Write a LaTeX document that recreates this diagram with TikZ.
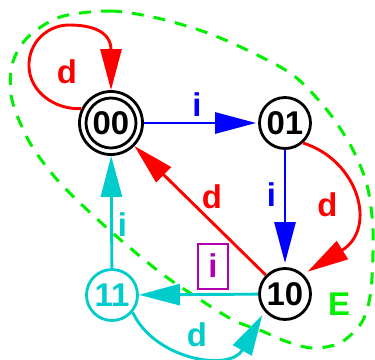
\documentclass[tikz,border=0pt]{standalone}
\usepackage{fontspec}
\setmainfont{Liberation Sans}
\usetikzlibrary{arrows.meta}
\definecolor{tcyan}{RGB}{0,204,204}
\definecolor{tmag}{RGB}{176,0,176}
\definecolor{tgreen}{RGB}{0,240,0}
\begin{document}
\begin{tikzpicture}[x=1bp,y=-1bp,
  state/.style={circle,draw,line width=2.8bp,minimum size=51bp,inner sep=0pt,
    font=\fontsize{33}{36}\selectfont\bfseries},
  lbl/.style={inner sep=0pt,font=\fontsize{33}{36}\selectfont\bfseries},
  edge/.style={line width=2.9bp,-{Triangle[length=41bp,width=21bp]}},
]
\useasboundingbox (0,0) rectangle (375,360);

% the set E
\draw[tgreen,line width=3bp,dash pattern=on 12bp off 10bp]
  plot[smooth cycle] coordinates {(60,17) (110,11) (157,18) (205,32) (247,50)
    (293,75) (327,110) (352,148) (367,185) (373,230) (371,290) (362,322)
    (340,343) (312,348) (285,341) (262,331) (233,320) (193,295) (157,270)
    (107,228) (60,183) (30,143) (12,100) (12,65) (27,38)};

% states
\node[state,minimum size=63bp] (n00) at (111,123) {00};
\draw[line width=2.8bp] (n00.center) circle (25bp);
\node[state] (n01) at (285,123) {01};
\node[state] (n10) at (285,294) {10};
\node[state,tcyan] (n11) at (112,295) {11};

% transitions
\draw[edge,red] (n00.154) .. controls (55,110) and (30,92) .. (29,67)
  .. controls (28,42) and (48,25) .. (69,25)
  .. controls (93,25) and (111,32) .. (111,50) -- (n00.north);
\draw[edge,blue,shorten >=2bp] (n00) -- (n01);
\draw[edge,blue,shorten >=4bp] (n01) -- (n10);
\draw[edge,red,shorten >=5bp] (n01.-48) .. controls (358,160) and (378,228) .. (n10.47);
\draw[edge,red] (n10) -- (n00);
\draw[edge,tcyan] (n10) -- (n11);
\draw[edge,tcyan] (n11) -- (n00);
\draw[edge,tcyan,shorten >=4bp] (n11.-40) .. controls (155,360) and (230,372) .. (n10.-140);

% labels
\node[lbl,red] (dloop) at (67,72) {d};
\node[lbl,blue] (itop) at (197,105) {i};
\node[lbl,blue] (iright) at (271.5,195) {i};
\node[lbl,red] (dright) at (327.5,205) {d};
\node[lbl,red] (ddiag) at (212,197) {d};
\node[lbl,tcyan] (ileft) at (122.5,224.5) {i};
\node[lbl,tcyan] (dbottom) at (197,335) {d};
\node[lbl,tmag,draw,line width=2bp,minimum width=30bp,minimum height=45bp] (ibox) at (213,266) {i};
\node[lbl,tgreen] (E) at (339,304) {E};
\end{tikzpicture}
\end{document}
